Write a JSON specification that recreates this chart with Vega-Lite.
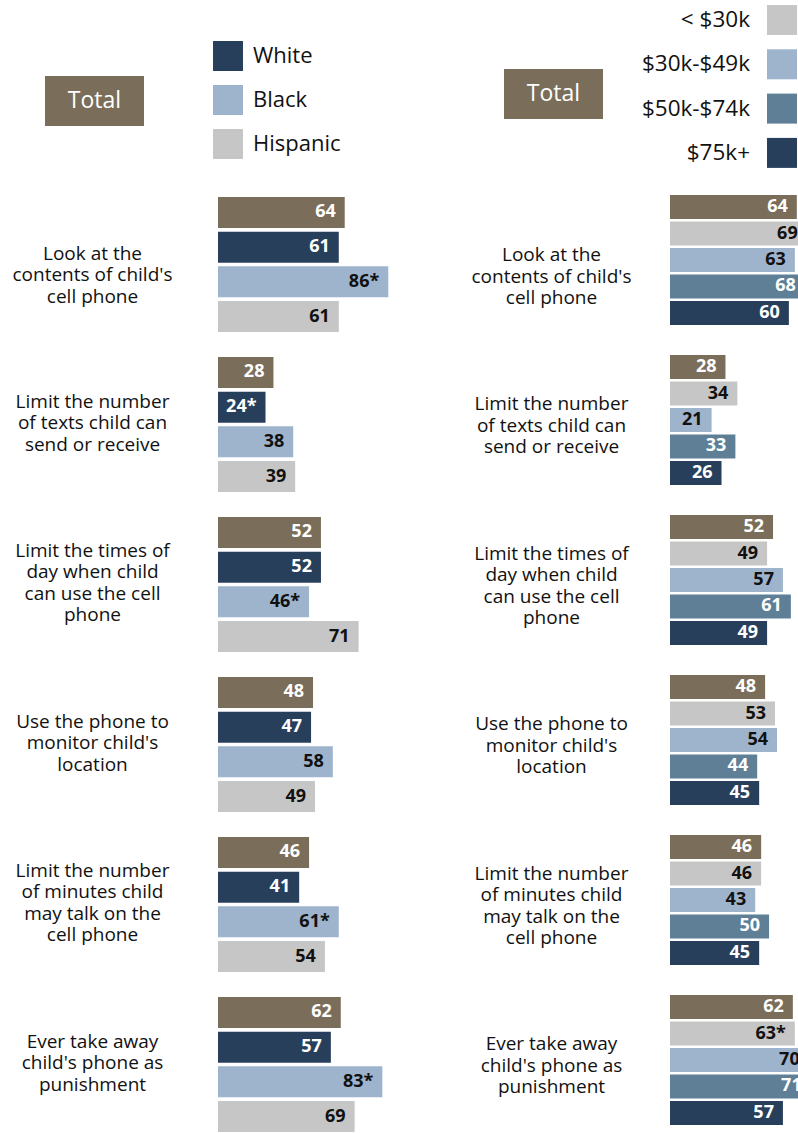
{
  "$schema": "https://vega.github.io/schema/vega-lite/v6.json",
  "background": "white",
  "padding": {"left": 12, "top": 5, "right": 0, "bottom": 0},
  "datasets": {
    "race": [
      {"q": "Look at the|contents of child's|cell phone", "g": "Total", "v": 64, "t": "64"},
      {"q": "Look at the|contents of child's|cell phone", "g": "White", "v": 61, "t": "61"},
      {"q": "Look at the|contents of child's|cell phone", "g": "Black", "v": 86, "t": "86*"},
      {"q": "Look at the|contents of child's|cell phone", "g": "Hispanic", "v": 61, "t": "61"},
      {"q": "Limit the number|of texts child can|send or receive", "g": "Total", "v": 28, "t": "28"},
      {"q": "Limit the number|of texts child can|send or receive", "g": "White", "v": 24, "t": "24*"},
      {"q": "Limit the number|of texts child can|send or receive", "g": "Black", "v": 38, "t": "38"},
      {"q": "Limit the number|of texts child can|send or receive", "g": "Hispanic", "v": 39, "t": "39"},
      {"q": "Limit the times of|day when child|can use the cell|phone", "g": "Total", "v": 52, "t": "52"},
      {"q": "Limit the times of|day when child|can use the cell|phone", "g": "White", "v": 52, "t": "52"},
      {"q": "Limit the times of|day when child|can use the cell|phone", "g": "Black", "v": 46, "t": "46*"},
      {"q": "Limit the times of|day when child|can use the cell|phone", "g": "Hispanic", "v": 71, "t": "71"},
      {"q": "Use the phone to|monitor child's|location", "g": "Total", "v": 48, "t": "48"},
      {"q": "Use the phone to|monitor child's|location", "g": "White", "v": 47, "t": "47"},
      {"q": "Use the phone to|monitor child's|location", "g": "Black", "v": 58, "t": "58"},
      {"q": "Use the phone to|monitor child's|location", "g": "Hispanic", "v": 49, "t": "49"},
      {"q": "Limit the number|of minutes child|may talk on the|cell phone", "g": "Total", "v": 46, "t": "46"},
      {"q": "Limit the number|of minutes child|may talk on the|cell phone", "g": "White", "v": 41, "t": "41"},
      {"q": "Limit the number|of minutes child|may talk on the|cell phone", "g": "Black", "v": 61, "t": "61*"},
      {"q": "Limit the number|of minutes child|may talk on the|cell phone", "g": "Hispanic", "v": 54, "t": "54"},
      {"q": "Ever take away|child's phone as|punishment", "g": "Total", "v": 62, "t": "62"},
      {"q": "Ever take away|child's phone as|punishment", "g": "White", "v": 57, "t": "57"},
      {"q": "Ever take away|child's phone as|punishment", "g": "Black", "v": 83, "t": "83*"},
      {"q": "Ever take away|child's phone as|punishment", "g": "Hispanic", "v": 69, "t": "69"}
    ],
    "income": [
      {"q": "Look at the|contents of child's|cell phone", "g": "Total", "v": 64, "t": "64"},
      {"q": "Look at the|contents of child's|cell phone", "g": "< $30k", "v": 69, "t": "69"},
      {"q": "Look at the|contents of child's|cell phone", "g": "$30k-$49k", "v": 63, "t": "63"},
      {"q": "Look at the|contents of child's|cell phone", "g": "$50k-$74k", "v": 68, "t": "68"},
      {"q": "Look at the|contents of child's|cell phone", "g": "$75k+", "v": 60, "t": "60"},
      {"q": "Limit the number|of texts child can|send or receive", "g": "Total", "v": 28, "t": "28"},
      {"q": "Limit the number|of texts child can|send or receive", "g": "< $30k", "v": 34, "t": "34"},
      {"q": "Limit the number|of texts child can|send or receive", "g": "$30k-$49k", "v": 21, "t": "21"},
      {"q": "Limit the number|of texts child can|send or receive", "g": "$50k-$74k", "v": 33, "t": "33"},
      {"q": "Limit the number|of texts child can|send or receive", "g": "$75k+", "v": 26, "t": "26"},
      {"q": "Limit the times of|day when child|can use the cell|phone", "g": "Total", "v": 52, "t": "52"},
      {"q": "Limit the times of|day when child|can use the cell|phone", "g": "< $30k", "v": 49, "t": "49"},
      {"q": "Limit the times of|day when child|can use the cell|phone", "g": "$30k-$49k", "v": 57, "t": "57"},
      {"q": "Limit the times of|day when child|can use the cell|phone", "g": "$50k-$74k", "v": 61, "t": "61"},
      {"q": "Limit the times of|day when child|can use the cell|phone", "g": "$75k+", "v": 49, "t": "49"},
      {"q": "Use the phone to|monitor child's|location", "g": "Total", "v": 48, "t": "48"},
      {"q": "Use the phone to|monitor child's|location", "g": "< $30k", "v": 53, "t": "53"},
      {"q": "Use the phone to|monitor child's|location", "g": "$30k-$49k", "v": 54, "t": "54"},
      {"q": "Use the phone to|monitor child's|location", "g": "$50k-$74k", "v": 44, "t": "44"},
      {"q": "Use the phone to|monitor child's|location", "g": "$75k+", "v": 45, "t": "45"},
      {"q": "Limit the number|of minutes child|may talk on the|cell phone", "g": "Total", "v": 46, "t": "46"},
      {"q": "Limit the number|of minutes child|may talk on the|cell phone", "g": "< $30k", "v": 46, "t": "46"},
      {"q": "Limit the number|of minutes child|may talk on the|cell phone", "g": "$30k-$49k", "v": 43, "t": "43"},
      {"q": "Limit the number|of minutes child|may talk on the|cell phone", "g": "$50k-$74k", "v": 50, "t": "50"},
      {"q": "Limit the number|of minutes child|may talk on the|cell phone", "g": "$75k+", "v": 45, "t": "45"},
      {"q": "Ever take away|child's phone as|punishment", "g": "Total", "v": 62, "t": "62"},
      {"q": "Ever take away|child's phone as|punishment", "g": "< $30k", "v": 63, "t": "63*"},
      {"q": "Ever take away|child's phone as|punishment", "g": "$30k-$49k", "v": 70, "t": "70"},
      {"q": "Ever take away|child's phone as|punishment", "g": "$50k-$74k", "v": 71, "t": "71"},
      {"q": "Ever take away|child's phone as|punishment", "g": "$75k+", "v": 57, "t": "57"}
    ]
  },
  "bounds": "flush",
  "spacing": 254,
  "resolve": {
    "scale": {"x": "independent", "y": "independent", "yOffset": "independent", "color": "independent", "fill": "independent"},
    "legend": {"color": "independent", "fill": "independent"}
  },
  "hconcat": [
    {
      "width": 198,
      "height": 947,
      "data": {"name": "race"},
      "encoding": {
        "y": {
          "field": "q", "type": "nominal", "sort": null,
          "scale": {"paddingInner": 0.15625, "paddingOuter": 0.0375, "align": 1},
          "axis": {"title": null, "domain": false, "ticks": false, "tickSize": 0, "labelPadding": 126, "labelAlign": "center", "labelBaseline": "middle", "labelFont": "Open Sans", "labelFontSize": 19, "labelLineHeight": 21.5, "labelColor": "#111111", "labelLimit": 400,
            "labelOffset": {"condition": [{"test": "indexof(datum.value, 'Look at') == 0", "value": -11}, {"test": "length(split(datum.value, '|')) >= 4", "value": -34}], "value": -23},
            "labelExpr": "split(datum.value, '|')"}
        },
        "yOffset": {
          "field": "g", "type": "nominal", "sort": null,
          "scale": {"domain": ["Total", "White", "Black", "Hispanic"], "paddingInner": 0.107, "paddingOuter": 0}
        },
        "x": {"field": "v", "type": "quantitative", "scale": {"domain": [0, 100], "nice": false}, "axis": null}
      },
      "layer": [
        {
          "transform": [{"filter": "datum.g === 'Total'"}],
          "mark": {"type": "bar"},
          "encoding": {
            "fill": {
              "field": "g", "type": "nominal",
              "scale": {"domain": ["Total"], "range": ["#7a6e5a"]},
              "legend": {"orient": "none", "legendX": -173, "legendY": -133.5, "title": null, "padding": 0, "symbolType": "M-1,-0.505H1V0.505H-1Z", "symbolSize": 9801, "symbolStrokeWidth": 0, "symbolOpacity": 1, "labelColor": "white", "labelFont": "Open Sans", "labelFontSize": 23, "labelAlign": "center", "labelOffset": -49.5}
            }
          }
        },
        {
          "transform": [{"filter": "datum.g !== 'Total'"}],
          "mark": {"type": "bar"},
          "encoding": {
            "color": {
              "field": "g", "type": "nominal",
              "scale": {"domain": ["White", "Black", "Hispanic"], "range": ["#283f5c", "#9eb4cc", "#c6c6c6"]},
              "legend": {"orient": "none", "legendX": -5, "legendY": -144, "title": null, "padding": 0, "symbolType": "square", "symbolSize": 900, "symbolStrokeWidth": 0, "symbolOpacity": 1, "labelColor": "#111111", "labelFont": "Open Sans", "labelFontSize": 22, "labelOffset": 10, "rowPadding": 14}
            }
          }
        },
        {
          "mark": {"type": "text", "align": "right", "baseline": "middle", "dx": -9, "font": "Open Sans", "fontWeight": "bold", "fontSize": 18},
          "encoding": {
            "text": {"field": "t"},
            "color": {"condition": {"test": "datum.g === 'Black' || datum.g === 'Hispanic'", "value": "#111111"}, "value": "white"}
          }
        }
      ]
    },
    {
      "width": 128,
      "height": 940,
      "data": {"name": "income"},
      "encoding": {
        "y": {
          "field": "q", "type": "nominal", "sort": null,
          "scale": {"paddingInner": 0.1875, "paddingOuter": 0.03125, "align": 1},
          "axis": {"title": null, "domain": false, "ticks": false, "tickSize": 0, "labelPadding": 119, "labelAlign": "center", "labelBaseline": "middle", "labelFont": "Open Sans", "labelFontSize": 19, "labelLineHeight": 21.5, "labelColor": "#111111", "labelLimit": 400,
            "labelOffset": {"condition": [{"test": "indexof(datum.value, 'Look at') == 0", "value": -5}, {"test": "length(split(datum.value, '|')) >= 4", "value": -26.5}], "value": -16},
            "labelExpr": "split(datum.value, '|')"}
        },
        "yOffset": {
          "field": "g", "type": "nominal", "sort": null,
          "scale": {"domain": ["Total", "< $30k", "$30k-$49k", "$50k-$74k", "$75k+"], "paddingInner": 0.094, "paddingOuter": 0}
        },
        "x": {"field": "v", "type": "quantitative", "scale": {"domain": [0, 64.6], "nice": false}, "axis": null}
      },
      "layer": [
        {
          "transform": [{"filter": "datum.g === 'Total'"}],
          "mark": {"type": "bar", "clip": true},
          "encoding": {
            "fill": {
              "field": "g", "type": "nominal",
              "scale": {"domain": ["Total"], "range": ["#7a6e5a"]},
              "legend": {"orient": "none", "legendX": -166, "legendY": -140.5, "title": null, "padding": 0, "symbolType": "M-1,-0.505H1V0.505H-1Z", "symbolSize": 9801, "symbolStrokeWidth": 0, "symbolOpacity": 1, "labelColor": "white", "labelFont": "Open Sans", "labelFontSize": 23, "labelAlign": "center", "labelOffset": -49.5}
            }
          }
        },
        {
          "transform": [{"filter": "datum.g !== 'Total'"}],
          "mark": {"type": "bar", "clip": true},
          "encoding": {
            "color": {
              "field": "g", "type": "nominal",
              "scale": {"domain": ["< $30k", "$30k-$49k", "$50k-$74k", "$75k+"], "range": ["#c6c6c6", "#9eb4cc", "#5e7f96", "#283f5c"]},
              "legend": {"orient": "none", "legendX": 97, "legendY": -180, "title": null, "padding": 0, "symbolType": "square", "symbolSize": 900, "symbolStrokeWidth": 0, "symbolOpacity": 1, "labelColor": "#111111", "labelFont": "Open Sans", "labelFontSize": 22.5, "labelAlign": "right", "labelOffset": -47, "rowPadding": 14.3}
            }
          }
        },
        {
          "mark": {"type": "text", "clip": true, "align": "right", "baseline": "middle", "dx": -9, "font": "Open Sans", "fontWeight": "bold", "fontSize": 18},
          "encoding": {
            "text": {"field": "t"},
            "color": {"condition": {"test": "datum.g === '< $30k' || datum.g === '$30k-$49k'", "value": "#111111"}, "value": "white"}
          }
        }
      ]
    }
  ],
  "config": {"view": {"stroke": null}, "font": "Open Sans"}
}
